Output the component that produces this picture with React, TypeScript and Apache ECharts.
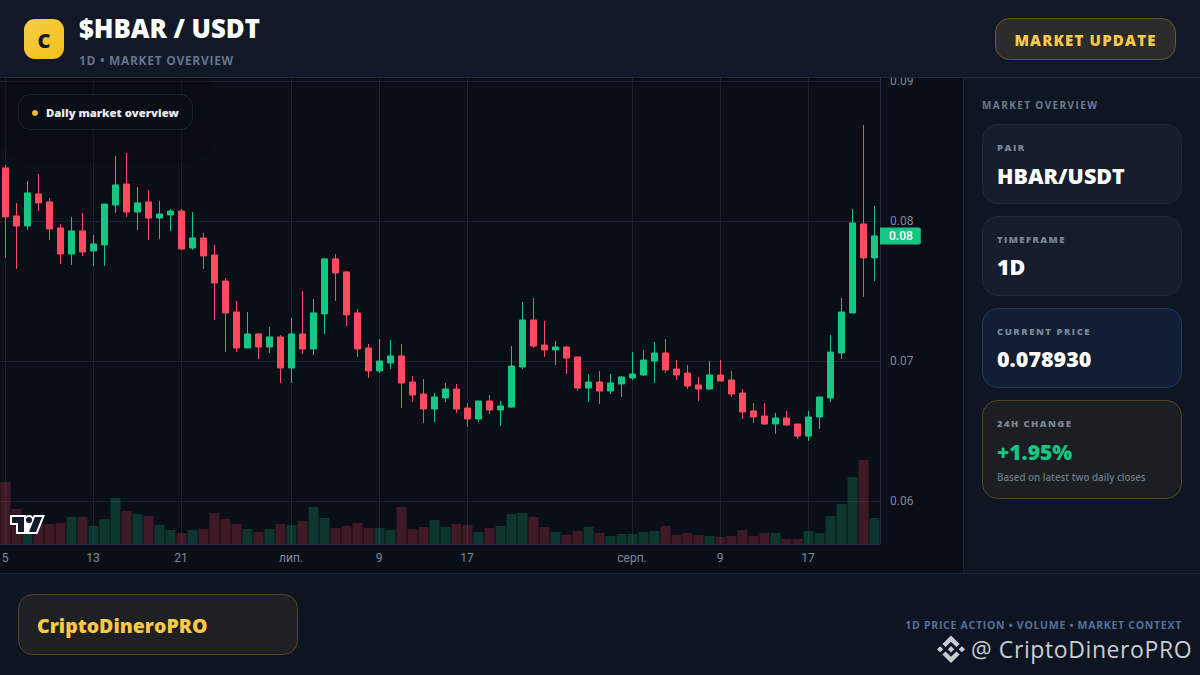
import React, { useEffect, useRef } from "react";
import * as echarts from "echarts";

const opens = [
  0.08379, 0.08036, 0.07964, 0.08193, 0.08136, 0.0795, 0.07764, 0.07929, 0.07786, 0.07829,
  0.08114, 0.08264, 0.08064, 0.08136, 0.08021, 0.08043, 0.08071, 0.07807, 0.07879, 0.07757,
  0.07571, 0.0735, 0.07093, 0.07193, 0.071, 0.07171, 0.0695, 0.07193, 0.07086, 0.07336,
  0.07729, 0.07636, 0.07343, 0.07093, 0.06929, 0.06986, 0.07036, 0.0685, 0.06764, 0.06657,
  0.06736, 0.068, 0.06664, 0.06586, 0.06714, 0.0665, 0.06671, 0.06957, 0.07293, 0.07114,
  0.07079, 0.071, 0.07029, 0.06807, 0.0685, 0.06786, 0.06836, 0.06879, 0.069, 0.07,
  0.07057, 0.06943, 0.06914, 0.06829, 0.068, 0.069, 0.06864, 0.06771, 0.06643, 0.06607,
  0.0655, 0.06593, 0.0655, 0.06464, 0.066, 0.06736, 0.07057, 0.07343, 0.07979, 0.07736,
];
const closes = [
  0.08029, 0.07964, 0.082, 0.08129, 0.07943, 0.07764, 0.07929, 0.07779, 0.07836, 0.08121,
  0.08257, 0.08064, 0.08129, 0.08021, 0.0805, 0.08071, 0.078, 0.07879, 0.0775, 0.07557,
  0.07343, 0.07093, 0.07193, 0.071, 0.07171, 0.0695, 0.07193, 0.07086, 0.07343, 0.07729,
  0.07629, 0.07329, 0.07086, 0.06929, 0.07, 0.07036, 0.06843, 0.06757, 0.06657, 0.06743,
  0.068, 0.06657, 0.06586, 0.06714, 0.0665, 0.06679, 0.06964, 0.07293, 0.07107, 0.07079,
  0.071, 0.07021, 0.06807, 0.0685, 0.06786, 0.06843, 0.06886, 0.06907, 0.07007, 0.07057,
  0.06936, 0.069, 0.06821, 0.068, 0.069, 0.06857, 0.06764, 0.06636, 0.066, 0.0655,
  0.06593, 0.06543, 0.06464, 0.066, 0.06743, 0.07064, 0.0735, 0.07986, 0.07736, 0.07893,
];
const lows = [
  0.07736, 0.07657, 0.07936, 0.08071, 0.07864, 0.07693, 0.07686, 0.0775, 0.07679, 0.07679,
  0.08057, 0.08029, 0.07936, 0.07864, 0.07871, 0.07929, 0.07793, 0.07793, 0.07657, 0.07293,
  0.07064, 0.07064, 0.07093, 0.07014, 0.07057, 0.06843, 0.06843, 0.0705, 0.07043, 0.07193,
  0.07429, 0.0725, 0.07029, 0.06879, 0.06914, 0.06943, 0.06664, 0.06707, 0.06557, 0.06564,
  0.06707, 0.06629, 0.06529, 0.06564, 0.06621, 0.06536, 0.06664, 0.06943, 0.07093, 0.07029,
  0.06971, 0.06907, 0.06786, 0.06707, 0.06693, 0.06764, 0.06743, 0.06864, 0.06893, 0.06843,
  0.06914, 0.06864, 0.068, 0.06714, 0.06793, 0.06857, 0.06743, 0.06586, 0.06557, 0.06543,
  0.06479, 0.06536, 0.06443, 0.06429, 0.06514, 0.06707, 0.07014, 0.07343, 0.07457, 0.07571,
];
const highs = [
  0.084, 0.08129, 0.08286, 0.08336, 0.08164, 0.07979, 0.08029, 0.08057, 0.079, 0.08121,
  0.08464, 0.08486, 0.08243, 0.08221, 0.08143, 0.08086, 0.08086, 0.08064, 0.07914, 0.07829,
  0.07593, 0.07429, 0.0735, 0.072, 0.07243, 0.07186, 0.07307, 0.075, 0.07443, 0.07736,
  0.07764, 0.07643, 0.07371, 0.07121, 0.07157, 0.0715, 0.07121, 0.06893, 0.06871, 0.06771,
  0.06843, 0.06836, 0.067, 0.06714, 0.06757, 0.06714, 0.07107, 0.07421, 0.0745, 0.07286,
  0.07143, 0.07107, 0.07029, 0.06907, 0.06929, 0.06907, 0.06893, 0.07064, 0.07079, 0.07136,
  0.07157, 0.07007, 0.06971, 0.06886, 0.07, 0.07007, 0.06929, 0.068, 0.067, 0.067,
  0.06629, 0.06643, 0.0655, 0.06643, 0.06743, 0.07186, 0.0745, 0.08086, 0.08686, 0.08107,
];
const volumes = [
  62, 35, 20, 20, 20, 21, 27, 27, 18, 25,
  46, 33, 30, 28, 19, 14, 11, 14, 15, 31,
  25, 20, 15, 12, 15, 20, 19, 23, 37, 26,
  16, 18, 21, 16, 16, 14, 37, 15, 17, 24,
  17, 20, 19, 12, 16, 18, 30, 31, 27, 17,
  12, 9, 13, 17, 11, 8, 10, 10, 12, 13,
  18, 9, 11, 9, 8, 7, 8, 14, 8, 11,
  11, 5, 5, 13, 11, 28, 40, 67, 84, 26,
];
const tickLabels: Record<number, string> = {
  0: "5", 8: "13", 16: "21", 26: "лип.", 34: "9", 42: "17", 57: "серп.", 65: "9", 73: "17",
};
const priceTicks = [0.06, 0.07, 0.08, 0.09];
const lastClose = 0.07893;

const FONT = "'Open Sans', sans-serif";
const UP = "#16c784";
const DOWN = "#ff4a5f";
const GRID = "#1a2130";

const spacing: Record<string, string> = {
  "1D • MARKET OVERVIEW": "0.7px",
  "MARKET UPDATE": "1.2px",
  "MARKET OVERVIEW": "1.4px",
  PAIR: "1.5px",
  TIMEFRAME: "1.4px",
  "CURRENT PRICE": "1.5px",
  "24H CHANGE": "1.4px",
  "1D PRICE ACTION • VOLUME • MARKET CONTEXT": "0.72px",
  "@ CriptoDineroPRO": "0.6px",
};

const tvOuter =
  "M2 0H0v10h6v9h21.4l.5-1.3 6-15 1-2.7H23.7l-.5 1.3-.2.6a5 5 0 0 0-7-.9V0H2Z";
const tvInner =
  "M14 2H2v6h6v9h6V2Zm12 15h-7l6-15h7l-6 15Zm-7-9a3 3 0 1 0 0-6 3 3 0 0 0 0 6Z";
const binancePath =
  "M38.73 53.2l24.59-24.58 24.6 24.6 14.3-14.31L63.32 0 24.43 38.9z M0 63.31l14.3-14.31 14.31 14.31-14.31 14.3z M38.73 73.41l24.59 24.59 24.6-24.6 14.31 14.29-38.9 38.91-38.91-38.88z M98.28 63.31l14.3-14.31 14.31 14.3-14.31 14.32z M77.83 63.3L63.32 48.78 52.59 59.51l-1.24 1.23-2.54 2.54 14.51 14.5 14.51-14.51z";

echarts.graphic.registerShape("tvOuter", echarts.graphic.extendPath(tvOuter, {}));
echarts.graphic.registerShape("tvInner", echarts.graphic.extendPath(tvInner, {}));
echarts.graphic.registerShape("binance", echarts.graphic.extendPath(binancePath, {}));

function rect(x: number, y: number, w: number, h: number, fill: any, r = 0, stroke?: string) {
  return {
    type: "rect",
    z: 100,
    silent: true,
    shape: stroke ? { x: x + 0.5, y: y + 0.5, width: w - 1, height: h - 1, r } : { x, y, width: w, height: h, r },
    style: stroke ? { fill, stroke, lineWidth: 1 } : { fill },
  };
}
function text(
  t: string,
  x: number,
  y: number,
  size: number,
  weight: number | string,
  fill: string,
  align: string = "left",
  family: string = FONT
) {
  return {
    type: "text",
    z: 101,
    silent: true,
    x,
    y,
    style: {
      text: t,
      fill,
      align,
      verticalAlign: "middle",
      font: `${weight} ${size}px ${family}`,
    },
  };
}

const overlay: any[] = [
  { type: "rect", z: 1, silent: true, shape: { x: 0, y: 70, width: 216, height: 92, r: 30 }, style: { fill: "rgba(8,10,16,0.4)" } },
  rect(0, 0, 1200, 77, "#111929"),
  rect(0, 77, 1200, 1, "#222b3d"),
  rect(24, 19, 40, 40, {
    type: "linear", x: 0, y: 0, x2: 1, y2: 1,
    colorStops: [{ offset: 0, color: "#f8cf4a" }, { offset: 1, color: "#f2bd16" }],
  }, 11),
  text("C", 44, 40, 20, 800, "#111929", "center"),
  text("$HBAR / USDT", 79, 28, 25.7, 800, "#ffffff"),
  text("1D • MARKET OVERVIEW", 79, 60, 12, 700, "#64748b"),
  rect(995, 18, 181, 42, "#2b2c2b", 14, "#6a5a25"),
  text("MARKET UPDATE", 1085.5, 39.5, 15, 800, "#f9c94b", "center"),
  rect(963, 78, 237, 496, "#0e1523"),
  rect(963, 78, 1, 496, "#1c2434"),
  text("MARKET OVERVIEW", 982, 105, 10, 700, "#6f7b8e"),
  rect(982, 124, 200, 80, "#161d2c", 15, "#1f2839"),
  text("PAIR", 997, 147, 9.5, 800, "#7b8596"),
  text("HBAR/USDT", 997, 175.5, 21.5, 800, "#ffffff"),
  rect(982, 216, 200, 80, "#161d2c", 15, "#1f2839"),
  text("TIMEFRAME", 997, 239, 9.5, 800, "#7b8596"),
  text("1D", 997, 266.5, 21.5, 800, "#ffffff"),
  rect(982, 308, 200, 80, "#121e33", 15, "#1e3a63"),
  text("CURRENT PRICE", 997, 331, 9.5, 800, "#7b8596"),
  text("0.078930", 997, 358.5, 21.5, 800, "#ffffff"),
  rect(982, 400, 200, 99, "#1b1f24", 15, "#574620"),
  text("24H CHANGE", 997, 423, 9.5, 800, "#7b8596"),
  text("+1.95%", 997, 451.5, 21, 800, UP),
  text("Based on latest two daily closes", 997, 477, 9.75, 600, "#6b7585"),
  rect(0, 574, 1200, 101, "#0e1522"),
  rect(0, 573, 1200, 1, "#1c2434"),
  rect(18, 594, 280, 61, "#1f2021", 14, "#574620"),
  text("CriptoDineroPRO", 37, 625.5, 19.5, 800, "#fac94a"),
  text("1D PRICE ACTION • VOLUME • MARKET CONTEXT", 1182, 625, 10.5, 700, "#5a7096", "right"),
  text("@ CriptoDineroPRO", 971, 649, 23, 400, "#c9cdd3"),
  { type: "binance", z: 101, silent: true, x: 937, y: 635.5, scaleX: 0.221, scaleY: 0.217, style: { fill: "#c9cdd3" } },
  { ...rect(18, 94, 175, 36, "#0a0e16", 12, "#1b2230"), z: 20 },
  { type: "circle", z: 21, silent: true, shape: { cx: 35, cy: 113, r: 3 }, style: { fill: "#fbbf24" } },
  { ...text("Daily market overview", 46, 112.5, 11.3, 800, "#e9edf3"), z: 21 },
  { type: "tvOuter", z: 21, silent: true, x: 10, y: 515, style: { fill: "#ffffff" } },
  { type: "tvInner", z: 22, silent: true, x: 10, y: 515, style: { fill: "#131a2a" } },
];

export default function App() {
  const ref = useRef<HTMLDivElement>(null);
  useEffect(() => {
    document.body.style.margin = "0";
    document.body.style.background = "#0a0e16";
    const chart = echarts.init(ref.current!, undefined, { renderer: "svg" });
    const cats = opens.map((_, i) => String(i));
    const isTick = (i: number) => tickLabels[i] !== undefined;
    chart.setOption({
      animation: false,
      backgroundColor: "#0a0e16",
      graphic: { elements: overlay },
      grid: [
        { left: 0, top: 78, width: 880, height: 466, outerBoundsMode: "none" },
        { left: 0, top: 444, width: 880, height: 100, outerBoundsMode: "none" },
      ],
      xAxis: [
        {
          type: "category",
          data: cats,
          gridIndex: 0,
          axisLine: { show: true, onZero: false, lineStyle: { color: "#252e40" } },
          axisTick: { show: false, alignWithLabel: true, interval: (i: number) => isTick(i) },
          axisLabel: {
            interval: (i: number) => isTick(i),
            formatter: (_: string, i: number) => tickLabels[i] ?? "",
            color: "#808a9a",
            fontFamily: "Roboto",
            fontSize: 12,
            margin: 8,
            padding: [0, 1, 0, 0],
          },
          splitLine: {
            show: true,
            alignWithLabel: true,
            interval: (i: number) => isTick(i),
            lineStyle: { color: GRID, width: 1 },
          },
        },
        {
          type: "category",
          data: cats,
          gridIndex: 1,
          show: false,
        },
      ],
      yAxis: [
        {
          type: "value",
          gridIndex: 0,
          position: "right",
          min: 0.05693,
          max: 0.09021,
          axisLine: { show: true, lineStyle: { color: "#252e40" } },
          axisTick: { show: false, customValues: priceTicks },
          axisLabel: {
            customValues: priceTicks,
            formatter: (v: number) => v.toFixed(2),
            color: "#808a9a",
            fontFamily: "Roboto",
            fontSize: 12,
            margin: 10,
          },
          splitLine: { show: true, lineStyle: { color: GRID, width: 1 } },
        },
        { type: "value", gridIndex: 1, min: 0, max: 100, show: false },
      ],
      series: [
        {
          type: "bar",
          xAxisIndex: 1,
          yAxisIndex: 1,
          z: 1,
          barWidth: 10,
          data: volumes,
          itemStyle: {
            color: (p: any) =>
              closes[p.dataIndex] >= opens[p.dataIndex] ? "rgba(22,199,132,0.22)" : "rgba(255,74,95,0.22)",
          },
        },
        {
          type: "candlestick",
          xAxisIndex: 0,
          yAxisIndex: 0,
          z: 3,
          barWidth: 6,
          data: opens.map((o, i) => [o, closes[i], lows[i], highs[i]]),
          itemStyle: { color: UP, color0: DOWN, borderColor: UP, borderColor0: DOWN, borderWidth: 1 },
          markLine: {
            silent: true,
            symbol: "none",
            animation: false,
            precision: 5,
            lineStyle: { color: "rgba(0,0,0,0)", width: 0 },
            label: {
              show: true,
              position: "end",
              distance: 0,
              formatter: () => lastClose.toFixed(2),
              color: "#ffffff",
              fontFamily: "Roboto",
              fontSize: 12,
              fontWeight: 500,
              backgroundColor: UP,
              padding: [3, 8, 2, 9],
              borderRadius: [0, 2, 2, 0],
            },
            data: [{ yAxis: lastClose }],
          },
        },
      ],
    });
    const apply = () => {
      ref.current?.querySelectorAll("text").forEach((el) => {
        const s = spacing[(el.textContent || "").trim()];
        if (s) (el as any).style.letterSpacing = s;
      });
    };
    apply();
    const raf = requestAnimationFrame(apply);
    return () => {
      cancelAnimationFrame(raf);
      chart.dispose();
    };
  }, []);
  return <div ref={ref} style={{ position: "absolute", left: 0, top: 0, width: 1200, height: 675 }} />;
}
